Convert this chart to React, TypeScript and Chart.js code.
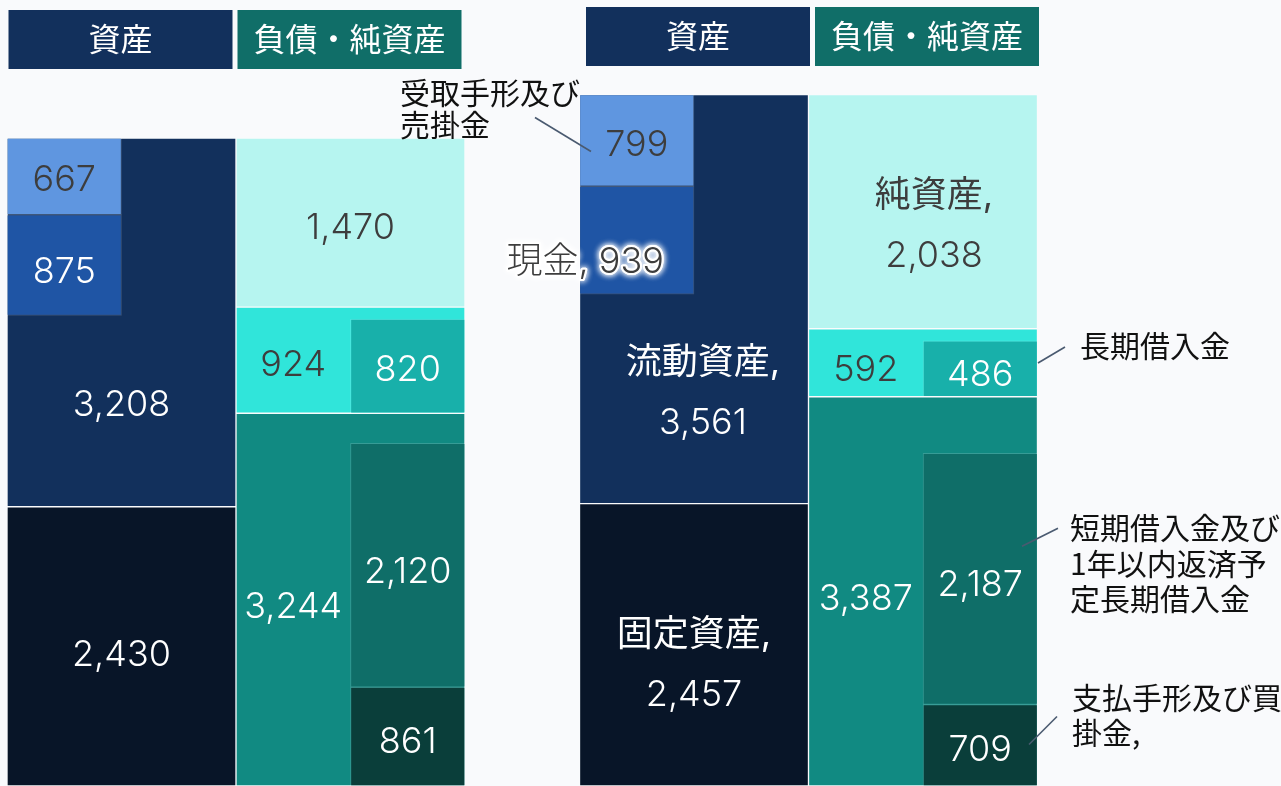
import React, { useEffect, useRef } from 'react';
import { Chart, registerables } from 'chart.js';

Chart.register(...registerables);

const W = 1281;
const H = 786;

// ---------------- data ----------------
const sheets = [0, 1];
const headerLabels = ['資産', '負債・純資産'];
const currentAssets = [3208, 3561];
const fixedAssets = [2430, 2457];
const receivables = [667, 799];
const cash = [875, 939];
const netAssets = [1470, 2038];
const fixedLiabilities = [924, 592];
const longTermBorrowings = [820, 486];
const currentLiabilities = [3244, 3387];
const shortTermBorrowings = [2120, 2187];
const payables = [861, 709];

const itemNames: Record<string, string> = {
  currentAssets: '流動資産',
  fixedAssets: '固定資産',
  receivables: '受取手形及び売掛金',
  cash: '現金',
  netAssets: '純資産',
  fixedLiabilities: '固定負債',
  longTermBorrowings: '長期借入金',
  currentLiabilities: '流動負債',
  shortTermBorrowings: '短期借入金及び1年以内返済予定長期借入金',
  payables: '支払手形及び買掛金',
};

// ---------------- layout / style ----------------
const PAD_L = 7;
const N_COLS = 9;
const COL_W = 114.5;
const PAD_R = W - PAD_L - N_COLS * COL_W;
const Y_MAX = 6840;
const SHEET_COL = [0, 5];
const BG = '#f9fafc';

const COLORS: Record<string, string> = {
  currentAssets: '#12305c',
  fixedAssets: '#081528',
  cash: '#1f55a5',
  receivables: '#5f96e0',
  netAssets: '#b6f5f0',
  fixedLiabilities: '#30e5da',
  longTermBorrowings: '#18b0aa',
  currentLiabilities: '#118a82',
  shortTermBorrowings: '#0f6e68',
  payables: '#0a3e3a',
};
const HEADER_COLORS = ['#12305c', '#106e68'];

const top = (s: number) => fixedAssets[s] + currentAssets[s];

type Spec = { key: string; col: number; span: number; range: (s: number) => [number, number] };
const barSpecs: Spec[] = [
  { key: 'receivables', col: 0.5, span: 1, range: s => [top(s) - receivables[s], top(s)] },
  { key: 'cash', col: 0.5, span: 1, range: s => [top(s) - receivables[s] - cash[s], top(s) - receivables[s]] },
  { key: 'longTermBorrowings', col: 3.5, span: 1, range: s => [currentLiabilities[s], currentLiabilities[s] + longTermBorrowings[s]] },
  { key: 'shortTermBorrowings', col: 3.5, span: 1, range: s => [payables[s], payables[s] + shortTermBorrowings[s]] },
  { key: 'payables', col: 3.5, span: 1, range: s => [0, payables[s]] },
  { key: 'fixedAssets', col: 1, span: 2, range: s => [0, fixedAssets[s]] },
  { key: 'currentAssets', col: 1, span: 2, range: s => [fixedAssets[s], top(s)] },
  { key: 'currentLiabilities', col: 3, span: 2, range: s => [0, currentLiabilities[s]] },
  { key: 'fixedLiabilities', col: 3, span: 2, range: s => [currentLiabilities[s], currentLiabilities[s] + fixedLiabilities[s]] },
  { key: 'netAssets', col: 3, span: 2, range: s => [currentLiabilities[s] + fixedLiabilities[s], currentLiabilities[s] + fixedLiabilities[s] + netAssets[s]] },
];

const valueOf: Record<string, number[]> = {
  currentAssets, fixedAssets, receivables, cash, netAssets, fixedLiabilities,
  longTermBorrowings, currentLiabilities, shortTermBorrowings, payables,
};

type LabelSpec = {
  key: string; s: number; place?: 'center' | 'leftCol' | 'belowSubs' | 'rightAlign';
  name?: 'inline' | 'stack'; dark?: boolean; halo?: boolean; dx?: number; dy?: number;
};
const valueLabels: LabelSpec[] = [
  { key: 'receivables', s: 0, dark: true, dy: 2 },
  { key: 'cash', s: 0, dy: 5 },
  { key: 'currentAssets', s: 0, place: 'belowSubs', dy: -8 },
  { key: 'fixedAssets', s: 0, dy: 7 },
  { key: 'netAssets', s: 0, dark: true, dy: 3 },
  { key: 'fixedLiabilities', s: 0, place: 'leftCol', dark: true, dy: 3 },
  { key: 'longTermBorrowings', s: 0, dy: 2 },
  { key: 'currentLiabilities', s: 0, place: 'leftCol', dy: 5 },
  { key: 'shortTermBorrowings', s: 0, dy: 5 },
  { key: 'payables', s: 0, dy: 4 },
  { key: 'receivables', s: 1, dark: true, dy: 3 },
  { key: 'cash', s: 1, name: 'inline', place: 'rightAlign', dark: true, halo: true, dx: -30, dy: 20 },
  { key: 'currentAssets', s: 1, name: 'stack', place: 'belowSubs', dx: 9, dy: -8 },
  { key: 'fixedAssets', s: 1, name: 'stack', dy: 18 },
  { key: 'netAssets', s: 1, name: 'stack', dark: true, dx: 11, dy: 12 },
  { key: 'fixedLiabilities', s: 1, place: 'leftCol', dark: true, dy: 5 },
  { key: 'longTermBorrowings', s: 1, dy: 4 },
  { key: 'currentLiabilities', s: 1, place: 'leftCol', dy: 6 },
  { key: 'shortTermBorrowings', s: 1, dy: 4 },
  { key: 'payables', s: 1, dy: 3 },
];

type Callout = {
  key: string; s: number; chunk: number; suffix: string;
  from: [string, number, number]; to: [string, number, number];
  text: [string, number, number]; lineH: number;
};
// [x-anchor of bar, dx, dy from bar top]
const callouts: Callout[] = [
  { key: 'receivables', s: 1, chunk: 6, suffix: '', from: ['left', -44.5, 23], to: ['left', 11.5, 57], text: ['left', -179.5, -1], lineH: 32 },
  { key: 'longTermBorrowings', s: 1, chunk: 7, suffix: '', from: ['right', 0.5, 22], to: ['right', 27.5, 6], text: ['right', 42.5, 5], lineH: 35 },
  { key: 'shortTermBorrowings', s: 1, chunk: 7, suffix: '', from: ['right', -15.5, 93], to: ['right', 20.5, 75], text: ['right', 32.5, 75], lineH: 35.5 },
  { key: 'payables', s: 1, chunk: 7, suffix: ',', from: ['right', -8.5, 40], to: ['right', 19.5, 12], text: ['right', 34.5, -6], lineH: 35 },
];

const NUM_FONT = (size: number, weight = 300) => `${weight} ${size}px Inter, "Noto Sans CJK JP", sans-serif`;
const CJK_FONT = (size: number, weight = 400) => `${weight} ${size}px "Noto Sans CJK JP", sans-serif`;
const fmt = (v: number) => v.toLocaleString('en-US');
const wrap = (t: string, n: number) => {
  const out: string[] = [];
  for (let i = 0; i < t.length; i += n) out.push(t.slice(i, i + n));
  return out;
};

function barRect(chart: any, key: string, s: number) {
  const idx = chart.data.datasets.findIndex((d: any) => d.key === key);
  const el: any = chart.getDatasetMeta(idx).data[s];
  const p = el.getProps(['x', 'y', 'base', 'width'], true);
  const t = Math.min(p.y, p.base);
  const b = Math.max(p.y, p.base);
  return { left: p.x - p.width / 2, right: p.x + p.width / 2, top: t, bottom: b, cx: p.x, cy: (t + b) / 2, width: p.width };
}

const overlayPlugin = {
  id: 'bsOverlay',
  afterDatasetsDraw(chart: any) {
    const ctx: CanvasRenderingContext2D = chart.ctx;
    ctx.save();

    // headers
    const headerDx = [-1, 4];
    const headerTop = [10, 7];
    sheets.forEach(s => {
      ['currentAssets', 'netAssets'].forEach((k, i) => {
        const r = barRect(chart, k, s);
        const w = r.width - 5;
        const x0 = r.cx + headerDx[s] - w / 2;
        ctx.fillStyle = HEADER_COLORS[i];
        ctx.fillRect(x0, headerTop[s], w, 59);
        ctx.fillStyle = '#ffffff';
        ctx.font = CJK_FONT(32, 400);
        ctx.textAlign = 'center';
        ctx.textBaseline = 'alphabetic';
        ctx.fillText(headerLabels[i], r.cx + headerDx[s], headerTop[s] + 29.5 + 0.36 * 32);
      });
    });

    // value labels
    const size = 36;
    valueLabels.forEach(l => {
      const r = barRect(chart, l.key, l.s);
      let x = r.cx;
      let y = r.cy;
      ctx.textAlign = 'center';
      if (l.place === 'leftCol') x = r.left + r.width / 4;
      if (l.place === 'belowSubs') {
        const c = barRect(chart, 'cash', l.s);
        y = (c.bottom + r.bottom) / 2;
      }
      if (l.place === 'rightAlign') {
        x = r.right;
        ctx.textAlign = 'right';
      }
      x += l.dx || 0;
      y += l.dy || 0;
      const v = fmt(valueOf[l.key][l.s]);
      let lines: string[] = [v];
      if (l.name === 'inline') lines = [`${itemNames[l.key]}, ${v}`];
      if (l.name === 'stack') lines = [`${itemNames[l.key]},`, v];
      const lh = 60;
      ctx.textBaseline = 'alphabetic';
      lines.forEach((ln, i) => {
        const isName = l.name === 'stack' && i === 0;
        ctx.font = NUM_FONT(size, isName ? 400 : 300);
        const yy = y + (i - (lines.length - 1) / 2) * lh + 0.36 * size;
        if (l.halo) {
          ctx.save();
          ctx.shadowColor = '#ffffff';
          ctx.shadowBlur = 6;
          ctx.strokeStyle = '#ffffff';
          ctx.lineWidth = 4;
          ctx.lineJoin = 'round';
          ctx.strokeText(ln, x, yy);
          ctx.strokeText(ln, x, yy);
          ctx.restore();
        }
        ctx.fillStyle = l.dark ? '#3d3d3d' : '#ffffff';
        ctx.fillText(ln, x, yy);
      });
    });

    // callouts
    callouts.forEach(c => {
      const r: any = barRect(chart, c.key, c.s);
      const ax = (a: string) => (a === 'left' ? r.left : r.right);
      ctx.strokeStyle = '#4a5a70';
      ctx.lineWidth = 1.6;
      ctx.beginPath();
      ctx.moveTo(ax(c.from[0]) + c.from[1], r.top + c.from[2]);
      ctx.lineTo(ax(c.to[0]) + c.to[1], r.top + c.to[2]);
      ctx.stroke();
      const lines = wrap(itemNames[c.key], c.chunk);
      lines[lines.length - 1] += c.suffix;
      ctx.fillStyle = '#111111';
      ctx.font = CJK_FONT(30);
      ctx.textAlign = 'left';
      ctx.textBaseline = 'alphabetic';
      lines.forEach((ln, i) => {
        ctx.fillText(ln, ax(c.text[0]) + c.text[1], r.top + c.text[2] + i * c.lineH + 0.36 * 30);
      });
    });

    ctx.restore();
  },
};

export default function App() {
  const ref = useRef<HTMLCanvasElement | null>(null);
  useEffect(() => {
    if (!ref.current) return;
    const datasets: any[] = barSpecs.map(sp => ({
      key: sp.key,
      label: itemNames[sp.key],
      data: sheets.map(s => ({ x: SHEET_COL[s] + sp.col, y: sp.range(s) })),
      backgroundColor: COLORS[sp.key],
      borderColor: 'rgba(255,255,255,0.16)',
      borderWidth: 1,
      borderSkipped: false,
      barThickness: sp.span * COL_W,
      grouped: false,
      order: sp.span === 1 ? 0 : 1,
    }));
    const chart = new Chart(ref.current, {
      type: 'bar',
      data: { datasets },
      options: {
        responsive: false,
        animation: false,
        layout: { padding: { left: PAD_L, right: PAD_R, top: 0, bottom: 0 } },
        scales: {
          x: { type: 'linear', min: 0, max: N_COLS, display: false, offset: false, grid: { offset: false } },
          y: { type: 'linear', min: 0, max: Y_MAX, display: false },
        },
        plugins: { legend: { display: false }, tooltip: { enabled: false } },
      } as any,
      plugins: [overlayPlugin],
    });
    return () => chart.destroy();
  }, []);
  return (
    <div style={{ position: 'fixed', left: 0, top: 0, width: W, height: H, background: BG }}>
      <canvas ref={ref} width={W} height={H} style={{ display: 'block' }} />
    </div>
  );
}
